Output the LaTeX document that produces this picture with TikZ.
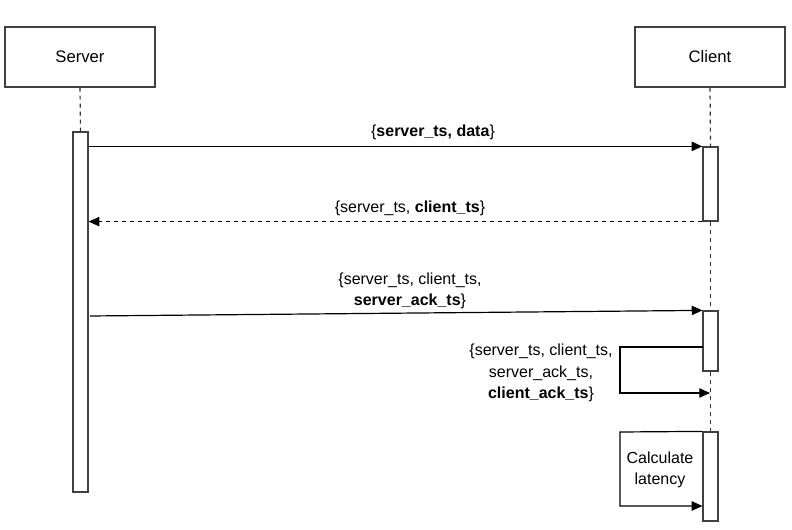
\documentclass[tikz,border=0pt]{standalone}
\usepackage{fontspec}
\setmainfont{Liberation Sans}
\usetikzlibrary{arrows.meta,positioning}

\tikzset{
  lifebox/.style={draw=black!75, line width=0.9pt, fill=white, minimum width=112.5pt, minimum height=45pt, inner sep=0pt, font=\fontsize{12.5}{15}\selectfont},
  actbar/.style={draw=black!75, line width=0.9pt, fill=white, minimum width=11.25pt, inner sep=0pt},
  lifeline/.style={draw=black!80, line width=0.9pt, dash pattern={on 3pt off 3pt}},
  msg/.style={line width=0.9pt, -{Triangle[length=8pt,width=7pt]}},
  msgtext/.style={inner sep=0pt, align=center, font=\fontsize{12}{16}\selectfont},
}

\begin{document}
\begin{tikzpicture}[x=0.75pt,y=0.75pt,yscale=-1,xscale=1]
\useasboundingbox (0,0) rectangle (792,530);

% Lifeline heads
\node [lifebox] (server) at (80,57) {Server};
\node [lifebox] (client) at (710,57) {Client};

% Activation bars
\node [actbar, minimum height=270pt] (sact) at (80.5,312) {};
\node [actbar, minimum height=55.5pt] (cact1) at (710.5,184) {};
\node [actbar, minimum height=45pt] (cact2) at (710.5,341) {};
\node [actbar, minimum height=66.75pt] (cact3) at (710.5,476.5) {};

% Lifelines
\draw [lifeline] (server.south) -- (sact.north);
\draw [lifeline] (client.south) -- (cact1.north);
\draw [lifeline] (cact1.south) -- (cact2.north);
\draw [lifeline] (cact2.south) -- (cact3.north);

% Message ends
\coordinate (m3s) at (90,316);
\coordinate (selfa) at (703,347);
\coordinate (selfb) at (710,393);

% Messages
\draw [msg] (sact.east |- cact1.north west) -- (cact1.north west);
\draw [msg, dash pattern={on 3pt off 3pt}] (cact1.south west) -- (sact.east |- cact1.south west);
\draw [msg] (m3s) -- (cact2.north west);
\draw [msg] (selfa) -- (620,347) -- (620,393) -- (selfb);
\draw [msg] (cact3.north west) -- (620,432) -- (620,506) -- (cact3.west |- 0,506);

% Labels
\node [msgtext] (l1) at (433,132) {\{\textbf{server\_ts, data}\}};
\node [msgtext] (l2) at (410,208) {\{server\_ts, \textbf{client\_ts}\}};
\node [msgtext] (l3) at (410,291) {\{server\_ts, client\_ts,\\\textbf{server\_ack\_ts}\}};
\node [msgtext] (l4) at (541,373) {\{server\_ts, client\_ts,\\server\_ack\_ts,\\\textbf{client\_ack\_ts}\}};
\node [msgtext] (l5) at (660,470) {Calculate\\latency};
\end{tikzpicture}
\end{document}
